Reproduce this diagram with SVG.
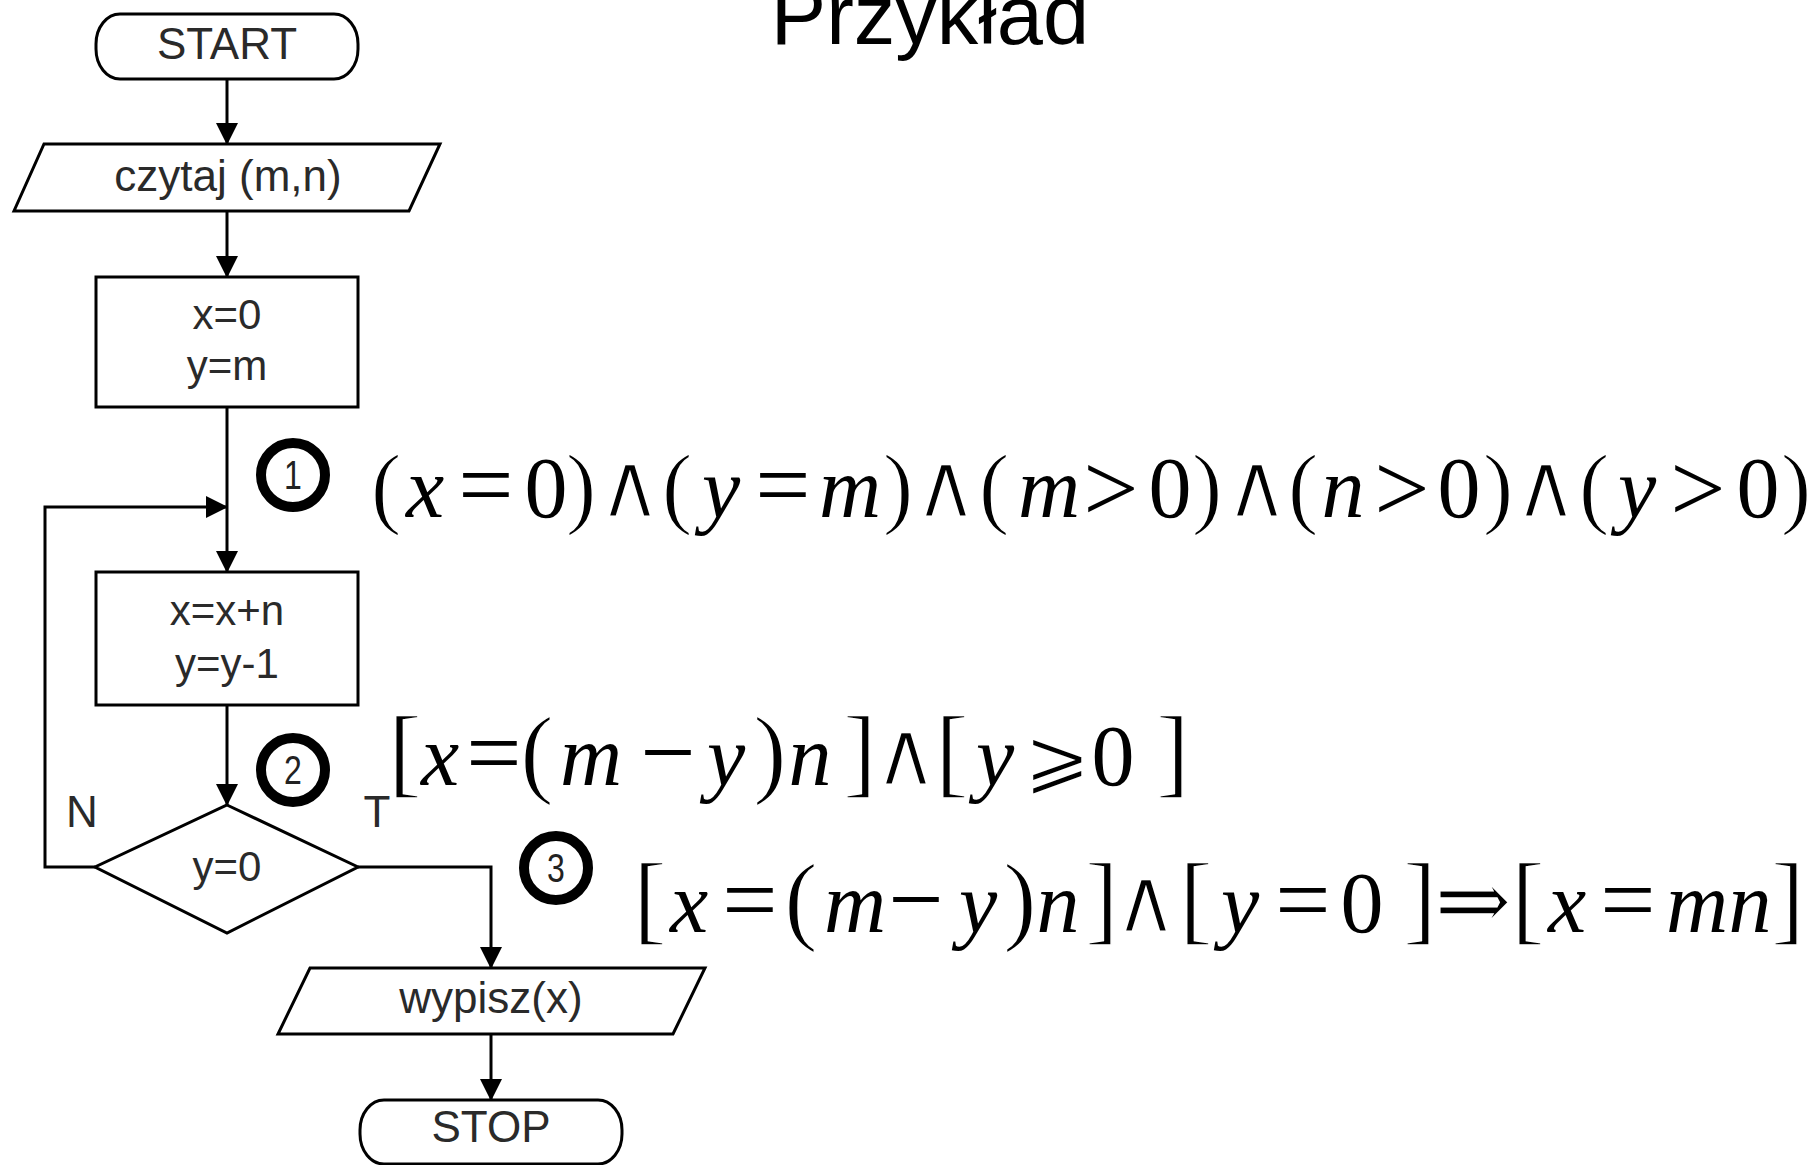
<svg xmlns="http://www.w3.org/2000/svg" width="1810" height="1165" viewBox="0 0 1810 1165">
  <defs>
    <style>
      .shape { fill: #fff; stroke: #000; stroke-width: 3; stroke-linejoin: miter; }
      .lbl { font-family: "Liberation Sans", Arial, sans-serif; font-size: 44px; fill: #2a2a2a; text-anchor: middle; }
      .sm { font-size: 42px; }
      .edge { fill: none; stroke: #000; stroke-width: 3; }
      .mark circle { fill: #fff; stroke: #000; stroke-width: 10; }
      .mark text { font-family: "Liberation Sans", Arial, sans-serif; font-size: 40px; fill: #222; text-anchor: middle; }
      .math { font-family: "Liberation Serif", "DejaVu Serif", "DejaVu Sans", serif; font-size: 86px; fill: #000; text-anchor: middle; }
      .i { font-style: italic; }
      .p1 { font-size: 92px; stroke: #fff; stroke-width: 1.5px; }
      .br { font-size: 100px; stroke: #fff; stroke-width: 1.5px; }
      .rel { font-size: 98px; }
      .and { font-family: "DejaVu Sans", sans-serif; font-size: 92px; stroke: #fff; stroke-width: 3px; }
      .geq { font-family: "DejaVu Sans", sans-serif; font-size: 80px; stroke: #fff; stroke-width: 2px; }
      .imp { font-family: "DejaVu Serif", serif; font-size: 92px; stroke: #fff; stroke-width: 1.5px; }
      .title { font-family: "Liberation Sans", Arial, sans-serif; font-size: 83px; fill: #000; text-anchor: middle; }
    </style>
    <marker id="arrow" viewBox="0 0 22 22" refX="21" refY="11" markerWidth="22" markerHeight="22" markerUnits="userSpaceOnUse" orient="auto">
      <path d="M0,0 L22,11 L0,22 Z" fill="#000"/>
    </marker>
  </defs>

  <rect width="1810" height="1165" fill="#fff"/>

  <!-- heading -->
  <text class="title" x="930" y="44">Przykład</text>

  <!-- connectors -->
  <g id="connectors">
    <path class="edge" d="M227,79 V144" marker-end="url(#arrow)"/>
    <path class="edge" d="M227,211 V277" marker-end="url(#arrow)"/>
    <path class="edge" d="M227,407 V572" marker-end="url(#arrow)"/>
    <path class="edge" d="M227,705 V805" marker-end="url(#arrow)"/>
    <path class="edge" d="M95,867 H45 V507 H227" marker-end="url(#arrow)"/>
    <path class="edge" d="M358,867 H491 V968" marker-end="url(#arrow)"/>
    <path class="edge" d="M491,1034 V1100" marker-end="url(#arrow)"/>
  </g>

  <!-- flowchart nodes -->
  <g id="start">
    <rect class="shape" x="96" y="14" width="262" height="65" rx="24" ry="30"/>
    <text class="lbl" x="227" y="59">START</text>
  </g>
  <g id="read">
    <polygon class="shape" points="44,144 440,144 409,211 14,211"/>
    <text class="lbl" x="228" y="191">czytaj (m,n)</text>
  </g>
  <g id="init">
    <rect class="shape" x="96" y="277" width="262" height="130"/>
    <text class="lbl sm" x="227" y="329">x=0</text>
    <text class="lbl sm" x="227" y="380">y=m</text>
  </g>
  <g id="step">
    <rect class="shape" x="96" y="572" width="262" height="133"/>
    <text class="lbl sm" x="227" y="625">x=x+n</text>
    <text class="lbl sm" x="227" y="678">y=y-1</text>
  </g>
  <g id="test">
    <polygon class="shape" points="227,805 358,867 227,933 95,867"/>
    <text class="lbl sm" x="227" y="881">y=0</text>
  </g>
  <g id="branch-labels">
    <text class="lbl" x="82" y="827" fill="#444">N</text>
    <text class="lbl" x="377" y="827" fill="#444">T</text>
  </g>
  <g id="write">
    <polygon class="shape" points="310,968 705,968 673,1034 278,1034"/>
    <text class="lbl" x="491" y="1013">wypisz(x)</text>
  </g>
  <g id="stop">
    <rect class="shape" x="360" y="1100" width="262" height="64" rx="24" ry="30"/>
    <text class="lbl" x="491" y="1142">STOP</text>
  </g>

  <!-- numbered checkpoints -->
  <g id="mark1" class="mark">
    <circle cx="293" cy="475" r="32"/>
    <text transform="translate(293,489) scale(0.8,1)">1</text>
  </g>
  <g id="mark2" class="mark">
    <circle cx="293" cy="770" r="32"/>
    <text transform="translate(293,784) scale(0.8,1)">2</text>
  </g>
  <g id="mark3" class="mark">
    <circle cx="556" cy="868" r="32"/>
    <text transform="translate(556,882) scale(0.8,1)">3</text>
  </g>

  <!-- assertions -->
  <text id="assert1" class="math" y="517"><tspan class="p1" x="386">(</tspan><tspan class="i" x="425">x</tspan><tspan class="rel" x="486">=</tspan><tspan x="546">0</tspan><tspan class="p1" x="581">)</tspan><tspan class="and" x="630">∧</tspan><tspan class="p1" x="677">(</tspan><tspan class="i" x="721">y</tspan><tspan class="rel" x="783">=</tspan><tspan class="i" x="850">m</tspan><tspan class="p1" x="898">)</tspan><tspan class="and" x="946">∧</tspan><tspan class="p1" x="994">(</tspan><tspan class="i" x="1049">m</tspan><tspan class="rel" x="1111" y="521">&gt;</tspan><tspan x="1170" y="517">0</tspan><tspan class="p1" x="1207">)</tspan><tspan class="and" x="1257">∧</tspan><tspan class="p1" x="1303">(</tspan><tspan class="i" x="1343">n</tspan><tspan class="rel" x="1402" y="521">&gt;</tspan><tspan x="1459" y="517">0</tspan><tspan class="p1" x="1498">)</tspan><tspan class="and" x="1546">∧</tspan><tspan class="p1" x="1594">(</tspan><tspan class="i" x="1637">y</tspan><tspan class="rel" x="1698" y="521">&gt;</tspan><tspan x="1758" y="517">0</tspan><tspan class="p1" x="1796">)</tspan></text>

  <text id="assert2" class="math" y="785"><tspan class="br" x="405">[</tspan><tspan class="i" x="440">x</tspan><tspan class="rel" x="494">=</tspan><tspan class="br" x="537">(</tspan><tspan class="i" x="591">m</tspan><tspan class="rel" x="668">−</tspan><tspan class="i" x="726">y</tspan><tspan class="br" x="770">)</tspan><tspan class="i" x="810">n</tspan><tspan class="br" x="860">]</tspan><tspan class="and" x="906">∧</tspan><tspan class="br" x="952">[</tspan><tspan class="i" x="995">y</tspan><tspan class="geq" x="1057">⩾</tspan><tspan x="1113">0</tspan><tspan class="br" x="1173">]</tspan></text>

  <text id="assert3" class="math" y="932"><tspan class="br" x="650">[</tspan><tspan class="i" x="689">x</tspan><tspan class="rel" x="750">=</tspan><tspan class="br" x="801">(</tspan><tspan class="i" x="855">m</tspan><tspan class="rel" x="916">−</tspan><tspan class="i" x="978">y</tspan><tspan class="br" x="1020">)</tspan><tspan class="i" x="1058">n</tspan><tspan class="br" x="1102">]</tspan><tspan class="and" x="1146">∧</tspan><tspan class="br" x="1196">[</tspan><tspan class="i" x="1240">y</tspan><tspan class="rel" x="1303">=</tspan><tspan x="1362">0</tspan><tspan class="br" x="1420">]</tspan><tspan class="imp" x="1473">⇒</tspan><tspan class="br" x="1528">[</tspan><tspan class="i" x="1567">x</tspan><tspan class="rel" x="1628">=</tspan><tspan class="i" x="1697">m</tspan><tspan class="i" x="1750">n</tspan><tspan class="br" x="1788">]</tspan></text>
</svg>
